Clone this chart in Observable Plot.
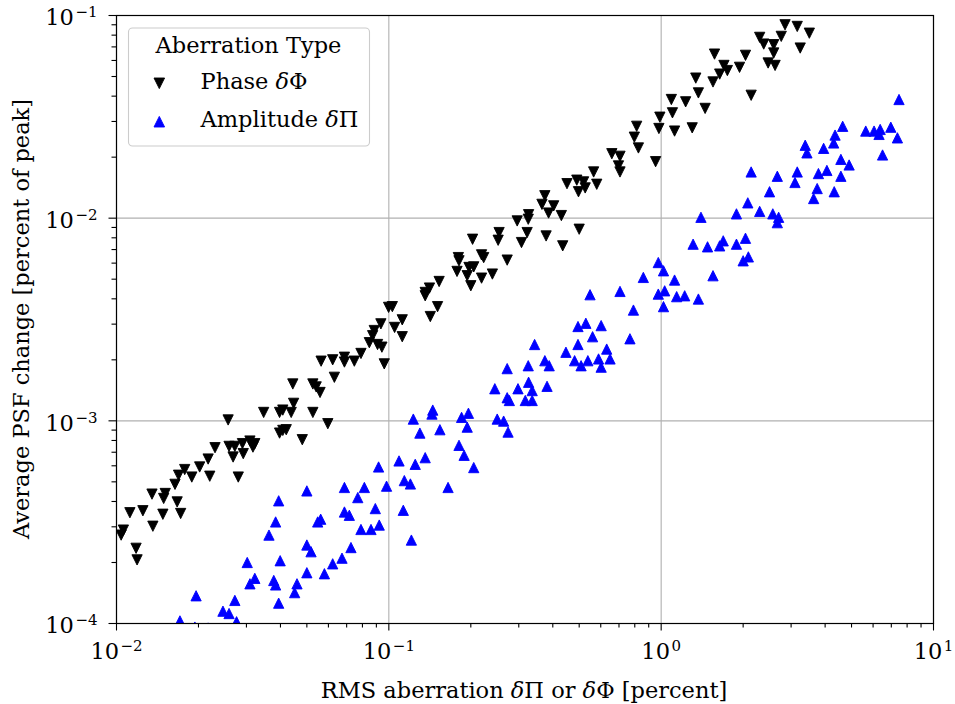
<!DOCTYPE html>
<html><head><meta charset="utf-8">
<script src="https://cdn.jsdelivr.net/npm/d3@7"></script>
<script src="https://cdn.jsdelivr.net/npm/@observablehq/plot@0.6"></script>
<style>body{margin:0;background:#fff}</style>
</head><body><div id="chart"></div>
<script>
// Phase δΦ (black, down triangles)
const phaseX = [0.0106,0.0104,0.0118,0.0119,0.0112,0.0125,0.0136,0.0148,0.0172,0.0135,0.0151,0.0149,0.0167,0.0164,0.0169,0.0178,0.0189,0.0202,0.0217,0.0220,0.0230,0.0259,0.0272,0.0290,0.0309,0.0322,0.0268,0.0292,0.0317,0.0280,0.0257,0.0347,0.0397,0.0408,0.0438,0.0447,0.0526,0.0597,0.0408,0.0420,0.0397,0.0481,0.0444,0.0526,0.0541,0.0559,0.0631,0.0564,0.0622,0.0687,0.0687,0.0747,0.0790,0.0848,0.0909,0.0943,0.0962,0.0872,0.0884,0.0935,0.0998,0.103,0.112,0.105,0.112,0.136,0.136,0.141,0.153,0.151,0.142,0.180,0.181,0.178,0.197,0.205,0.194,0.200,0.219,0.240,0.219,0.223,0.203,0.272,0.254,0.252,0.296,0.307,0.322,0.325,0.326,0.378,0.435,0.374,0.365,0.403,0.386,0.430,0.500,0.451,0.490,0.519,0.526,0.497,0.565,0.580,0.659,0.706,0.697,0.706,0.954,0.813,0.797,0.825,0.989,0.981,1.10,1.12,1.30,1.09,1.23,1.45,1.34,1.37,1.55,1.64,1.70,1.75,1.57,1.94,2.04,2.14,2.30,2.38,2.59,2.59,2.47,2.62,2.76,2.85,3.16,3.24,3.50];
const phaseY = [2.89e-4,2.73e-4,2.35e-4,2.06e-4,3.52e-4,3.60e-4,3.02e-4,3.46e-4,3.49e-4,4.35e-4,4.38e-4,4.14e-4,3.98e-4,4.86e-4,5.39e-4,5.75e-4,5.28e-4,5.92e-4,6.48e-4,5.33e-4,7.37e-4,7.48e-4,7.48e-4,7.72e-4,7.95e-4,7.72e-4,6.63e-4,6.89e-4,7.42e-4,5.28e-4,1.01e-3,1.10e-3,1.10e-3,1.13e-3,1.10e-3,1.22e-3,1.10e-3,9.68e-4,8.97e-4,9.04e-4,8.70e-4,8.07e-4,1.52e-3,1.52e-3,1.47e-3,1.38e-3,1.64e-3,1.97e-3,2.00e-3,2.06e-3,1.95e-3,1.97e-3,2.15e-3,2.43e-3,2.38e-3,2.31e-3,1.91e-3,2.63e-3,2.79e-3,3.01e-3,3.63e-3,3.66e-3,3.15e-3,2.89e-3,2.60e-3,4.30e-3,4.14e-3,4.52e-3,4.87e-3,3.66e-3,3.27e-3,6.39e-3,6.16e-3,5.46e-3,5.71e-3,5.75e-3,5.20e-3,4.64e-3,5.06e-3,5.30e-3,6.59e-3,6.39e-3,7.87e-3,6.21e-3,8.49e-3,7.78e-3,9.69e-3,7.58e-3,8.49e-3,9.88e-3,1.04e-2,8.17e-3,7.30e-3,1.29e-2,1.17e-2,1.15e-2,1.06e-2,1.03e-2,8.82e-3,1.48e-2,1.54e-2,1.51e-2,1.41e-2,1.35e-2,1.69e-2,1.47e-2,2.08e-2,2.02e-2,1.81e-2,1.69e-2,1.90e-2,2.84e-2,2.51e-2,2.22e-2,3.15e-2,2.77e-2,3.31e-2,2.69e-2,2.79e-2,3.85e-2,3.75e-2,3.48e-2,4.91e-2,4.15e-2,4.70e-2,5.14e-2,5.67e-2,5.35e-2,6.45e-2,5.55e-2,6.36e-2,4.04e-2,7.80e-2,7.23e-2,7.18e-2,6.53e-2,5.83e-2,5.67e-2,7.89e-2,9.00e-2,8.83e-2,6.91e-2,8.18e-2];
// Amplitude δΠ (blue, up triangles)
const ampX = [0.0171,0.0194,0.0217,0.0276,0.0196,0.0246,0.0259,0.0272,0.0302,0.0322,0.0309,0.0378,0.0384,0.0394,0.0363,0.0384,0.0394,0.0399,0.0460,0.0451,0.0500,0.0580,0.0500,0.0518,0.0500,0.0548,0.0562,0.0622,0.0673,0.0726,0.0687,0.0687,0.0716,0.0769,0.0813,0.0790,0.0860,0.0892,0.0922,0.0917,0.0981,0.121,0.109,0.114,0.120,0.113,0.125,0.136,0.165,0.181,0.189,0.205,0.130,0.154,0.123,0.145,0.144,0.185,0.196,0.194,0.250,0.264,0.274,0.245,0.298,0.326,0.336,0.381,0.272,0.277,0.317,0.336,0.272,0.325,0.374,0.388,0.343,0.447,0.481,0.508,0.538,0.589,0.602,0.631,0.649,0.495,0.529,0.602,0.560,0.495,0.768,0.548,0.706,0.791,0.860,0.976,1.02,1.12,0.976,1.03,1.14,1.22,1.37,1.02,1.31,1.55,1.48,1.64,1.69,1.89,2.04,2.00,2.09,1.40,1.89,2.08,2.30,2.57,2.70,2.67,2.50,2.14,2.67,3.16,3.10,3.78,4.06,4.57,3.74,3.63,4.32,3.38,3.43,3.95,4.35,4.30,4.57,4.90,4.64,5.64,6.05,6.37,6.31,6.97,7.37,6.50,7.47];
const ampY = [1.03e-4,9.6e-5,9.5e-5,1.02e-4,1.37e-4,1.15e-4,1.12e-4,1.30e-4,2.00e-4,1.67e-4,1.57e-4,1.63e-4,1.55e-4,1.26e-4,2.73e-4,3.17e-4,4.03e-4,2.04e-4,1.57e-4,1.42e-4,1.78e-4,1.76e-4,2.44e-4,2.26e-4,4.51e-4,3.17e-4,3.27e-4,1.97e-4,2.10e-4,2.37e-4,4.69e-4,3.55e-4,3.42e-4,4.18e-4,4.69e-4,2.91e-4,2.91e-4,3.69e-4,3.06e-4,5.92e-4,4.76e-4,2.58e-4,6.34e-4,5.07e-4,4.88e-4,3.62e-4,6.10e-4,6.58e-4,4.69e-4,7.57e-4,6.76e-4,5.88e-4,8.70e-4,9.04e-4,1.02e-3,1.13e-3,1.08e-3,1.04e-3,1.09e-3,9.31e-4,1.02e-3,9.97e-4,8.80e-4,1.44e-3,1.44e-3,1.55e-3,1.41e-3,1.48e-3,1.30e-3,1.26e-3,1.26e-3,1.26e-3,1.81e-3,1.87e-3,1.98e-3,1.87e-3,2.38e-3,2.18e-3,1.98e-3,1.87e-3,1.98e-3,2.02e-3,1.84e-3,2.26e-3,2.02e-3,2.92e-3,3.03e-3,2.95e-3,2.60e-3,2.38e-3,2.54e-3,4.19e-3,4.35e-3,3.52e-3,5.10e-3,6.04e-3,5.50e-3,4.95e-3,4.22e-3,4.38e-3,4.10e-3,4.14e-3,3.99e-3,3.66e-3,7.44e-3,5.20e-3,7.22e-3,7.30e-3,7.73e-3,7.44e-3,7.96e-3,6.16e-3,6.44e-3,1.01e-2,1.05e-2,1.19e-2,1.08e-2,1.05e-2,1.01e-2,9.50e-3,1.35e-2,1.69e-2,1.61e-2,1.69e-2,1.50e-2,1.66e-2,1.72e-2,1.61e-2,1.40e-2,1.25e-2,1.35e-2,2.29e-2,2.10e-2,2.21e-2,2.57e-2,2.35e-2,1.95e-2,1.83e-2,2.84e-2,2.69e-2,2.69e-2,2.74e-2,2.59e-2,2.81e-2,2.49e-2,2.05e-2,3.85e-2];

const xTicks = [0.01, 0.1, 1, 10];
const xTickLabels = ["10^-2", "10^-1", "10^0", "10^1"];
const yTicks = [1e-4, 1e-3, 1e-2, 1e-1];
const yTickLabels = ["10^-4", "10^-3", "10^-2", "10^-1"];
const minorMultipliers = [2, 3, 4, 5, 6, 7, 8, 9];
const seriesNames = ["Phase δΦ", "Amplitude δΠ"];
const legendTitle = "Aberration Type";

const xMinor = xTicks.slice(0, -1).flatMap(t => minorMultipliers.map(m => m * t));
const yMinor = yTicks.slice(0, -1).flatMap(t => minorMultipliers.map(m => m * t));

const phase = phaseX.map((x, i) => ({x, y: phaseY[i]}));
const amp = ampX.map((x, i) => ({x, y: ampY[i]}));

const triDown = {draw(c, size) { const h = Math.sqrt(size) / 2; c.moveTo(0, h); c.lineTo(-h, -h); c.lineTo(h, -h); c.closePath(); }};
const triUp = {draw(c, size) { const h = Math.sqrt(size) / 2; c.moveTo(0, -h); c.lineTo(-h, h); c.lineTo(h, h); c.closePath(); }};

const FONT = "'DejaVu Serif', serif";
const FS = "22.5px";
const chart = Plot.plot({
  width: 955, height: 704,
  marginLeft: 116, marginRight: 22, marginTop: 15, marginBottom: 81,
  style: {fontFamily: FONT, fontSize: FS, background: "#fff", color: "#000", overflow: "visible"},
  x: {type: "log", domain: [0.01, 10]},
  y: {type: "log", domain: [1e-4, 1e-1]},
  marks: [
    Plot.gridX(xTicks, {stroke: "#b0b0b0", strokeOpacity: 1, strokeWidth: 1.1}),
    Plot.gridY(yTicks, {stroke: "#b0b0b0", strokeOpacity: 1, strokeWidth: 1.1}),
    Plot.dot(phase, {x: "x", y: "y", symbol: triDown, r: 5.8, fill: "#000", stroke: "#000", strokeWidth: 0.9, clip: true}),
    Plot.dot(amp, {x: "x", y: "y", symbol: triUp, r: 5.8, fill: "#0000ff", stroke: "#0000ff", strokeWidth: 0.9, clip: true}),
    Plot.axisX(xMinor, {tickSize: 4.5, tickFormat: () => "", label: null, strokeWidth: 1.1}),
    Plot.axisY(yMinor, {tickSize: 4.5, tickFormat: () => "", label: null, strokeWidth: 1.1}),
    Plot.axisX(xTicks, {tickSize: 7.5, tickPadding: 12.5, tickFormat: d => xTickLabels[xTicks.indexOf(d)], label: null, strokeWidth: 1.1}),
    Plot.axisY(yTicks, {tickSize: 7.5, tickPadding: 11.5, tickFormat: d => yTickLabels[yTicks.indexOf(d)], label: null, strokeWidth: 1.1}),
    Plot.frame({stroke: "#000", strokeWidth: 1.2})
  ]
});
document.getElementById("chart").appendChild(chart);

const svg = d3.select(chart);
// superscript tick labels
svg.selectAll('g[aria-label="y-axis tick label"] text').attr("data-axis", "y");
svg.selectAll("text").each(function() {
  const s = this.textContent;
  if (!s || s.indexOf("^") < 0) return;
  const [b, e] = s.split("^");
  const isY = this.getAttribute("data-axis") === "y";
  const t = d3.select(this);
  t.text(null);
  t.append("tspan").attr("dy", isY ? 2.7 : 0).text(b);
  t.append("tspan").attr("font-size", "15px").attr("dy", "-8").attr("dx", "1.5").text(e.replace("-", "\u2212"));
});

// axis labels
const xl = svg.append("text").attr("x", 524).attr("y", 698).attr("text-anchor", "middle")
  .attr("font-family", FONT).attr("font-size", FS).attr("fill", "#000");
xl.append("tspan").text("RMS aberration ");
xl.append("tspan").attr("font-style", "italic").text("δ");
xl.append("tspan").text("Π or ");
xl.append("tspan").attr("font-style", "italic").text("δ");
xl.append("tspan").text("Φ [percent]");

svg.append("text").attr("transform", "translate(29,319) rotate(-90)").attr("text-anchor", "middle")
  .attr("font-family", FONT).attr("font-size", FS).attr("fill", "#000")
  .text("Average PSF change [percent of peak]");

// legend
const lg = svg.append("g").attr("font-family", FONT).attr("font-size", FS);
lg.append("rect").attr("x", 128.5).attr("y", 28).attr("width", 241).attr("height", 118).attr("rx", 4)
  .attr("fill", "#fff").attr("fill-opacity", 0.8).attr("stroke", "#cccccc").attr("stroke-width", 1.1);
lg.append("text").attr("x", 248.5).attr("y", 52.5).attr("text-anchor", "middle").attr("fill", "#000").text(legendTitle);
const h = 5.3;
const entries = [
  {name: seriesNames[0], color: "#000", cy: 83.3, base: 89, down: true},
  {name: seriesNames[1], color: "#0000ff", cy: 121.7, base: 127.3, down: false}
];
entries.forEach(en => {
  const cx = 159.3, cy = en.cy;
  const d = en.down
    ? `M${cx},${cy + h}L${cx - h},${cy - h}L${cx + h},${cy - h}Z`
    : `M${cx},${cy - h}L${cx - h},${cy + h}L${cx + h},${cy + h}Z`;
  lg.append("path").attr("d", d).attr("fill", en.color).attr("stroke", en.color).attr("stroke-width", 0.9);
  const [word, sym] = en.name.split(" ");
  const t = lg.append("text").attr("x", 200.5).attr("y", en.base).attr("text-anchor", "start").attr("fill", "#000");
  t.append("tspan").text(word + " ");
  t.append("tspan").attr("font-style", "italic").text(sym[0]);
  t.append("tspan").text(sym.slice(1));
});
</script>
</body></html>
